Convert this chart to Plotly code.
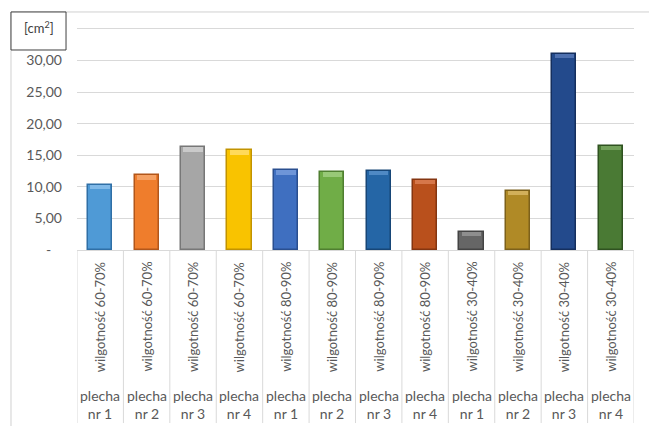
import plotly.graph_objects as go

# Thallus area by humidity range
humidity = ["wilgotność 60-70%"] * 4 + ["wilgotność 80-90%"] * 4 + ["wilgotność 30-40%"] * 4
thallus = ["plecha nr 1", "plecha nr 2", "plecha nr 3", "plecha nr 4"] * 3
area_cm2 = [10.3, 11.8, 16.3, 15.8, 12.6, 12.3, 12.5, 11.1, 2.9, 9.4, 31.1, 16.5]

bar_colors = ["#4f9ad6", "#ef7d2c", "#a6a6a6", "#f9c300", "#3f6fc0", "#70ad47",
              "#2566a6", "#b9501c", "#666666", "#b08a26", "#234a8c", "#4a7a34"]
edge_colors = ["#2f6fa6", "#b2561a", "#777777", "#c29300", "#2a4f8f", "#4f7f30",
               "#174677", "#843510", "#444444", "#7d611a", "#152f5e", "#2f5220"]
cap_colors = ["#80b9e8", "#f5a164", "#cacaca", "#ffda5a", "#6e95d8", "#98c977",
              "#4f89c4", "#d6774a", "#8e8e8e", "#d2b05a", "#4f71b0", "#72a05a"]

y_ticks = [0, 5, 10, 15, 20, 25, 30]
y_labels = ["-\u00a0\u00a0\u00a0", "5,00", "10,00", "15,00", "20,00", "25,00", "30,00"]

x = list(range(len(area_cm2)))
cap = 0.7  # height of the bevel cap, in axis units

fig = go.Figure()
fig.add_trace(go.Bar(
    x=x, y=area_cm2, width=0.52,
    marker=dict(color=bar_colors, line=dict(color=edge_colors, width=1.5)),
    hoverinfo="skip",
))
fig.add_trace(go.Bar(
    x=x, y=[cap] * len(area_cm2), base=[v - cap for v in area_cm2], width=0.42,
    marker=dict(color=cap_colors, line=dict(width=0)),
    hoverinfo="skip",
))

font = "Lato, 'Open Sans', sans-serif"
grey = "#595959"
line_grey = "#d9d9d9"

shapes = []
# outer chart frame
shapes.append(dict(type="rect", xref="paper", yref="paper",
                   x0=-0.1185, x1=1.06, y0=-0.83, y1=1.077,
                   line=dict(color="#d0d0d0", width=1), layer="below"))
# unit box
shapes.append(dict(type="rect", xref="paper", yref="paper",
                   x0=-0.1185, x1=-0.0197, y0=0.905, y1=1.077,
                   line=dict(color="#404040", width=1), fillcolor="white"))
# category dividers
for i in range(len(area_cm2) + 1):
    shapes.append(dict(type="line", xref="x", yref="paper",
                       x0=i - 0.5, x1=i - 0.5, y0=0, y1=-0.783,
                       line=dict(color=line_grey, width=1)))

annotations = [dict(text="[cm<sup>2</sup>]", xref="paper", yref="paper",
                    x=-0.069, y=1.009, xanchor="center", yanchor="middle",
                    showarrow=False, font=dict(family=font, size=13, color="#404040"))]
for i in x:
    annotations.append(dict(text=humidity[i], xref="x", yref="paper",
                            x=i, y=-0.303, xanchor="center", yanchor="middle",
                            textangle=-90, showarrow=False,
                            font=dict(family=font, size=13, color=grey)))
    annotations.append(dict(text=thallus[i].replace(" nr", "<br>nr"), xref="x", yref="paper",
                            x=i, y=-0.697, xanchor="center", yanchor="middle",
                            showarrow=False,
                            font=dict(family=font, size=14, color=grey)))

fig.update_layout(
    width=649, height=426,
    margin=dict(l=77, r=15, t=29, b=176),
    paper_bgcolor="white", plot_bgcolor="white",
    barmode="overlay", bargap=0, showlegend=False,
    shapes=shapes, annotations=annotations,
    # mirrored x-axis line gives the top gridline at 35
    xaxis=dict(range=[-0.5, 11.5], showticklabels=False, showgrid=False,
               zeroline=False, showline=True, mirror=True, linecolor=line_grey,
               linewidth=1, fixedrange=True),
    yaxis=dict(range=[0, 35], tickvals=y_ticks, ticktext=y_labels,
               showgrid=True, gridcolor=line_grey, gridwidth=1,
               zeroline=True, zerolinecolor=line_grey, zerolinewidth=1,
               showline=False, ticks="", ticklabelstandoff=14,
               tickfont=dict(family=font, size=14, color=grey), fixedrange=True),
)

fig.write_html("out.html")
